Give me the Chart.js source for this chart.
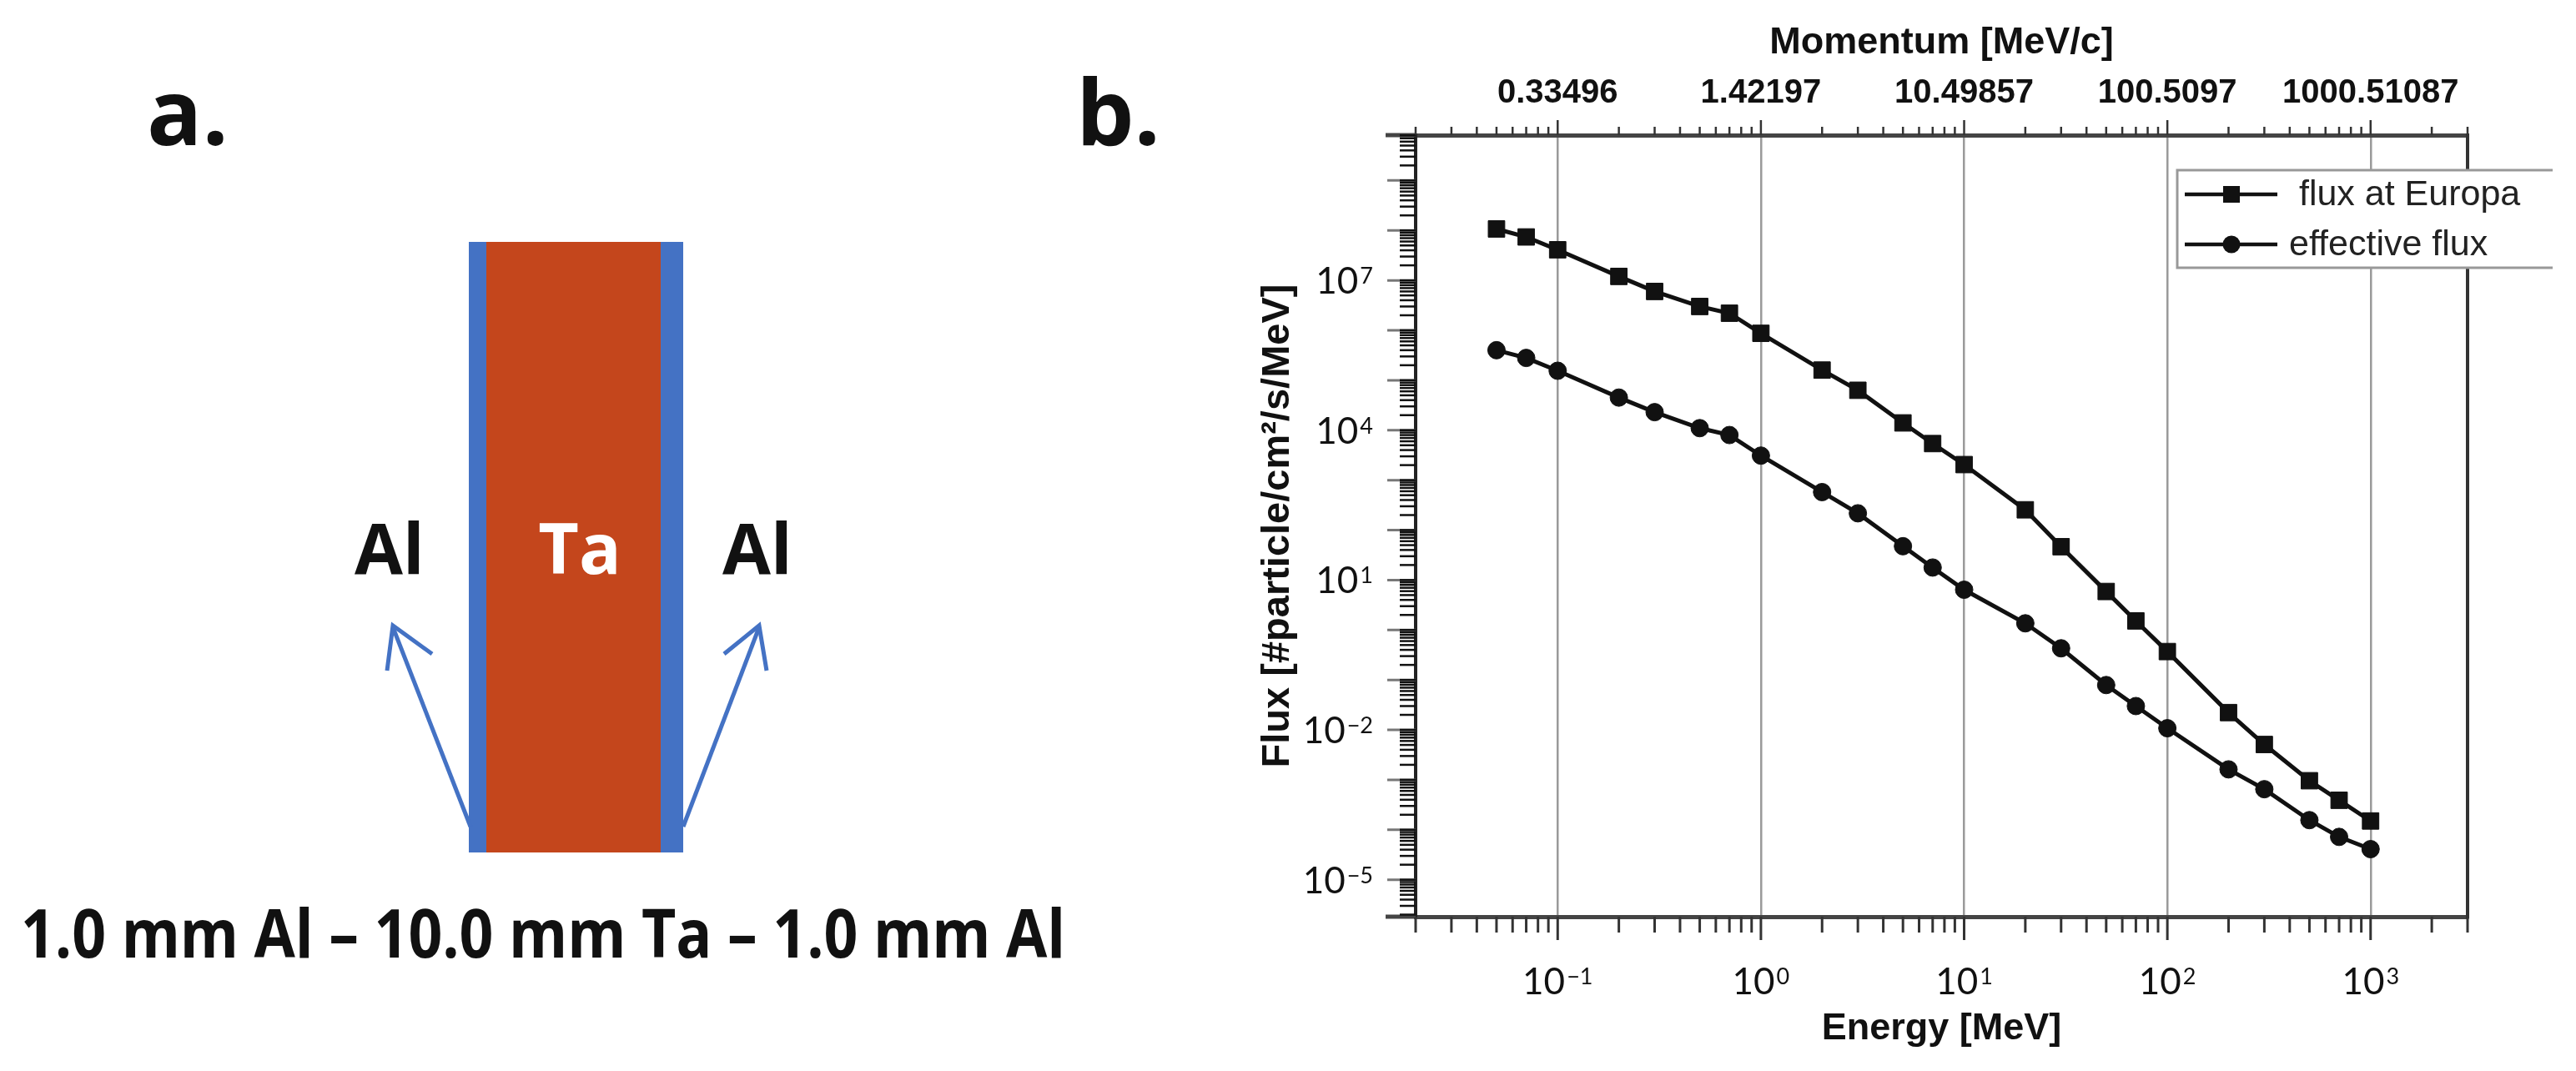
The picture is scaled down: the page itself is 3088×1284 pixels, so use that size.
<!DOCTYPE html>
<html>
<head>
<meta charset="utf-8">
<title>Electron flux at Europa</title>
<script src="https://cdn.jsdelivr.net/npm/chart.js@4.4.0/dist/chart.umd.min.js"></script>
<style>
  html, body { margin: 0; padding: 0; background: #fff; }
  body { position: relative; width: 3088px; height: 1284px; overflow: hidden; }
  #shield { position: absolute; left: 0; top: 0; }
  #shield text { font-family: "Open Sans", "Noto Sans", sans-serif; font-weight: 700; }
  #fluxChart { position: absolute; left: 1400px; top: 0; }
</style>
</head>
<body>

<!-- panel a: shielding stack -->
<svg id="shield" width="1400" height="1284" viewBox="0 0 1400 1284">
  <text x="176" y="174" font-size="110" fill="#111">a.</text>
  <text x="1290" y="174" font-size="110" fill="#111">b.</text>
  <rect x="562" y="290" width="21" height="732" fill="#4472C4"/>
  <rect x="583" y="290" width="209" height="732" fill="#C4461C"/>
  <rect x="792" y="290" width="27" height="732" fill="#4472C4"/>
  <text x="695" y="688" font-size="84" fill="#fff" text-anchor="middle">Ta</text>
  <text x="425" y="688" font-size="84" fill="#111">Al</text>
  <text x="866" y="688" font-size="84" fill="#111">Al</text>
  <g stroke="#4472C4" stroke-width="5" fill="none">
    <line x1="564" y1="991" x2="471" y2="752"/>
    <polyline points="464,804 471,750 518,784"/>
    <line x1="819" y1="991" x2="910" y2="752"/>
    <polyline points="868,784 910,750 919,804"/>
  </g>
  <text x="25" y="1148" font-size="80" fill="#111" textLength="1252" lengthAdjust="spacingAndGlyphs">1.0 mm Al – 10.0 mm Ta – 1.0 mm Al</text>
</svg>

<canvas id="fluxChart" width="1688" height="1284"></canvas>

<script>
// energy grid of the spectrum (MeV)
const energyMeV = [0.05, 0.07, 0.1, 0.2, 0.3, 0.5, 0.7, 1, 2, 3, 5, 7, 10, 20, 30, 50, 70, 100, 200, 300, 500, 700, 1000];
// #particle/cm2/s/MeV
const fluxAtEuropa = [1.07e8, 7.4e7, 4.1e7, 1.2e7, 6.0e6, 3.0e6, 2.2e6, 8.7e5, 1.6e5, 6.3e4, 1.4e4, 5.4e3, 2.05e3, 255, 46.5, 5.9, 1.52, 0.37, 0.0222, 5.1e-3, 9.6e-4, 3.9e-4, 1.5e-4];
const effectiveFlux = [4.0e5, 2.8e5, 1.55e5, 4.5e4, 2.3e4, 1.1e4, 8.0e3, 3.1e3, 577, 217, 47.6, 17.8, 6.4, 1.36, 0.43, 0.079, 0.030, 0.0108, 1.62e-3, 6.5e-4, 1.56e-4, 7.2e-5, 4.1e-5];
const seriesLabels = [" flux at Europa", "effective flux"];

// tick labels
const energyLabelExps = [-1, 0, 1, 2, 3];
const momentumLabels = ["0.33496", "1.42197", "10.49857", "100.5097", "1000.51087"];
const fluxLabelExps = [7, 4, 1, -2, -5];

const energyMin = 0.02, energyMax = 3000;
const fluxMin = 1.82e-6, fluxMax = 8.09e9;

const SANS = '"Liberation Sans", Arial, sans-serif';
const LIGHT = 'Lato, "Open Sans", sans-serif';

function logTicks(lo, hi) {
  const out = [];
  const e0 = Math.floor(Math.log10(lo)) - 1;
  const e1 = Math.ceil(Math.log10(hi));
  for (let e = e0; e <= e1; e++) {
    for (let m = 1; m <= 9; m++) {
      const v = m * Math.pow(10, e);
      if (v >= lo * 0.999 && v <= hi * 1.001) out.push({ value: v, major: m === 1 });
    }
  }
  return out;
}

function seg(ctx, x1, y1, x2, y2, color, width) {
  ctx.strokeStyle = color;
  ctx.lineWidth = width;
  ctx.beginPath();
  ctx.moveTo(x1, y1);
  ctx.lineTo(x2, y2);
  ctx.stroke();
}

// "10" with a raised exponent
function drawPower(ctx, exp, px, py, align) {
  const base = "10";
  const sup = exp < 0 ? "\u2212" + (-exp) : String(exp);
  ctx.font = "44px " + LIGHT;
  const wb = ctx.measureText(base).width;
  ctx.font = "27px " + LIGHT;
  const ws = ctx.measureText(sup).width;
  const total = wb + 2 + ws;
  const left = align === "right" ? px - total : px - total / 2;
  const baseline = py + 16;
  ctx.fillStyle = "#111";
  ctx.textAlign = "left";
  ctx.textBaseline = "alphabetic";
  ctx.font = "44px " + LIGHT;
  ctx.fillText(base, left, baseline);
  ctx.font = "27px " + LIGHT;
  ctx.fillText(sup, left + wb + 2, baseline - 12);
}

const axisDecor = {
  id: "axisDecor",
  afterDraw(chart) {
    const { ctx, chartArea: a, scales } = chart;
    const x = scales.x, x2 = scales.x2, y = scales.y;
    ctx.save();
    ctx.lineCap = "butt";

    // right frame and the axis stubs running out to the left
    seg(ctx, a.right, a.top - 2, a.right, a.bottom + 2, "#333", 4);
    seg(ctx, a.left - 36, a.top, a.left, a.top, "#444", 5);
    seg(ctx, a.left - 36, a.bottom, a.left, a.bottom, "#444", 5);

    // tick marks
    x.ticks.forEach((t) => {
      const px = x.getPixelForValue(t.value);
      seg(ctx, px, a.bottom, px, a.bottom + (t.major ? 28 : 19), "#333", 3);
    });
    x2.ticks.forEach((t) => {
      const px = x2.getPixelForValue(t.value);
      seg(ctx, px, a.top, px, a.top - (t.major ? 18 : 10), "#333", 2.5);
    });
    y.ticks.forEach((t) => {
      const py = y.getPixelForValue(t.value);
      if (t.major) seg(ctx, a.left, py, a.left - 34, py, "#777", 3);
      seg(ctx, a.left, py, a.left - 19, py, "#111", 2.5);
    });

    // tick labels
    energyLabelExps.forEach((e) => {
      drawPower(ctx, e, x.getPixelForValue(Math.pow(10, e)), a.bottom + 77, "center");
    });
    fluxLabelExps.forEach((e) => {
      drawPower(ctx, e, a.left - 51, y.getPixelForValue(Math.pow(10, e)), "right");
    });
    ctx.font = "bold 40px " + SANS;
    ctx.fillStyle = "#111";
    ctx.textAlign = "center";
    ctx.textBaseline = "middle";
    momentumLabels.forEach((lab, i) => {
      ctx.fillText(lab, x2.getPixelForValue(Math.pow(10, energyLabelExps[i])), a.top - 50);
    });

    // legend box, overlapping the right frame
    const bx = a.right - 348, by = a.top + 42, bw = 450, bh = 117;
    ctx.fillStyle = "#fff";
    ctx.fillRect(bx, by, bw, bh);
    ctx.strokeStyle = "#999";
    ctx.lineWidth = 3;
    ctx.beginPath();
    ctx.moveTo(bx + bw, by);
    ctx.lineTo(bx, by);
    ctx.lineTo(bx, by + bh);
    ctx.lineTo(bx + bw, by + bh);
    ctx.stroke();
    chart.data.datasets.forEach((ds, i) => {
      const ry = a.top + 71 + i * 60;
      seg(ctx, a.right - 339, ry, a.right - 228, ry, "#111", 4.5);
      ctx.fillStyle = "#111";
      if (ds.pointStyle === "rect") {
        ctx.fillRect(a.right - 293, ry - 10, 20, 20);
      } else {
        ctx.beginPath();
        ctx.arc(a.right - 283, ry, 10.5, 0, Math.PI * 2);
        ctx.fill();
      }
      ctx.font = "43px " + SANS;
      ctx.fillStyle = "#222";
      ctx.textAlign = "left";
      ctx.textBaseline = "middle";
      ctx.fillText(ds.label, a.right - 214, ry + 1);
    });

    ctx.restore();
  }
};

function setTicks(scale) {
  scale.ticks = logTicks(scale.min, scale.max);
}

const hidden = { display: false };

new Chart(document.getElementById("fluxChart"), {
  type: "line",
  data: {
    datasets: [
      {
        label: seriesLabels[0],
        data: energyMeV.map((e, i) => ({ x: e, y: fluxAtEuropa[i] })),
        borderColor: "#111",
        borderWidth: 5,
        pointStyle: "rect",
        pointRadius: 14,
        pointBackgroundColor: "#111",
        pointBorderColor: "#111",
        pointBorderWidth: 1,
        tension: 0
      },
      {
        label: seriesLabels[1],
        data: energyMeV.map((e, i) => ({ x: e, y: effectiveFlux[i] })),
        borderColor: "#111",
        borderWidth: 5,
        pointStyle: "circle",
        pointRadius: 10.5,
        pointBackgroundColor: "#111",
        pointBorderColor: "#111",
        pointBorderWidth: 1,
        tension: 0
      }
    ]
  },
  options: {
    responsive: false,
    animation: false,
    layout: {
      autoPadding: false,
      padding: { left: 103.8, top: 25, right: 130, bottom: 23 }
    },
    plugins: { legend: hidden, tooltip: { enabled: false } },
    scales: {
      x: {
        type: "logarithmic",
        position: "bottom",
        min: energyMin,
        max: energyMax,
        bounds: "data",
        afterBuildTicks: setTicks,
        ticks: { display: false, autoSkip: false },
        grid: {
          drawTicks: false,
          tickLength: 0,
          lineWidth: 2.5,
          color: (c) => (c.tick && c.tick.major ? "#9a9a9a" : "rgba(0,0,0,0)")
        },
        border: { display: true, color: "#444", width: 5 },
        title: {
          display: true,
          text: "Energy [MeV]",
          color: "#111",
          font: { family: SANS, size: 45, weight: "bold", lineHeight: 1.2 },
          padding: { top: 108, bottom: 0 }
        }
      },
      x2: {
        type: "logarithmic",
        position: "top",
        min: energyMin,
        max: energyMax,
        bounds: "data",
        afterBuildTicks: setTicks,
        ticks: { display: false, autoSkip: false },
        grid: { display: false, drawTicks: false, tickLength: 0 },
        border: { display: true, color: "#444", width: 5 },
        title: {
          display: true,
          text: "Momentum [MeV/c]",
          color: "#111",
          font: { family: SANS, size: 45, weight: "bold", lineHeight: 1.2 },
          padding: { top: 0, bottom: 83 }
        }
      },
      y: {
        type: "logarithmic",
        position: "left",
        min: fluxMin,
        max: fluxMax,
        bounds: "data",
        afterBuildTicks: setTicks,
        ticks: { display: false, autoSkip: false },
        grid: { display: false, drawTicks: false, tickLength: 0 },
        border: { display: true, color: "#222", width: 4 },
        title: {
          display: true,
          text: "Flux [#particle/cm\u00b2/s/MeV]",
          color: "#111",
          font: { family: SANS, size: 47, weight: "bold", lineHeight: 1.2 },
          padding: { top: 0, bottom: 136.8 }
        }
      }
    }
  },
  plugins: [axisDecor]
});
</script>
</body>
</html>
